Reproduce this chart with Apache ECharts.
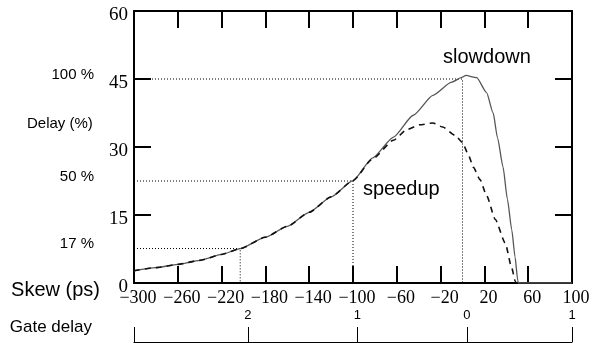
<!DOCTYPE html>
<html>
<head>
<meta charset="utf-8">
<script src="https://cdn.jsdelivr.net/npm/echarts@6/dist/echarts.min.js"></script>
<style>
  html, body { margin: 0; padding: 0; background: #fff; }
  #chart { width: 593px; height: 343px; }
</style>
</head>
<body>
<div id="chart"></div>
<script>
// skew (ps) vs delay
const solidSkew  = [-300, -280, -260, -240, -220, -203, -180, -160, -140, -120, -100, -82, -63, -45, -27, -10, 0, 3, 13, 22, 28, 32, 37, 41, 45, 48, 50.5, 51, 60, 100];
const solidDelay = [2.7, 3.4, 4.1, 5.0, 6.3, 7.6, 10.1, 12.5, 15.6, 19.0, 22.6, 27.6, 32.2, 37.0, 41.4, 44.3, 45.4, 45.8, 45.3, 42.0, 37.5, 32.0, 25.6, 18.5, 11.7, 5.7, 0.5, 0, 0, 0];

const dashedSkew  = [-300, -280, -260, -240, -220, -203, -180, -160, -140, -120, -100, -82, -63, -51, -39, -27, -18, -7, 0, 5, 10, 16, 22, 30, 39, 45, 48, 49];
const dashedDelay = [2.7, 3.4, 4.1, 5.0, 6.3, 7.6, 10.1, 12.5, 15.6, 19.0, 22.6, 27.4, 31.5, 33.8, 34.9, 35.3, 34.4, 32.6, 31.0, 28.5, 25.5, 22.8, 19.3, 14.0, 8.8, 3.3, 0.5, 0];

// dotted guide lines (100 %, 50 %, 17 % of the peak delay)
const refSkew   = [0, -100, -203];
const refDelay  = [45, 22.5, 7.6];
const refLabels = ["100 %", "50 %", "17 %"];

// gate-delay scale under the skew axis
const gateSkew   = [-196, -96, 4, 100];
const gateLabels = ["2", "1", "0", "1"];

const serif = "Liberation Serif";
const sans = "Liberation Sans";

const chart = echarts.init(document.getElementById("chart"), null, { renderer: "canvas" });

const pairs = (xs, ys) => xs.map((x, i) => [x, ys[i]]);

// one dotted polyline per guide: from the left axis to the curve, then down
const refSeries = refSkew.map((s, i) => ({
  type: "line",
  data: [[-300, refDelay[i]], [s, refDelay[i]], [s, 0]],
  showSymbol: false,
  silent: true,
  lineStyle: { color: "#000", width: 1, type: [1, 2] },
  z: 1,
}));

// axes must stay on the frame, not cross at zero
const frame = { show: true, onZero: false, lineStyle: { color: "#000", width: 2 } };
const tickIn = { inside: true, length: 17, lineStyle: { color: "#000", width: 2 } };

const option = {
  animation: false,
  backgroundColor: "#fff",
  // v6 shrinks the grid to keep labels on canvas; keep it fixed instead
  grid: { left: 134, right: 21, top: 11, bottom: 60, outerBoundsMode: "none", containLabel: false },
  xAxis: [
    {
      type: "value",
      min: -300,
      max: 100,
      interval: 40,
      position: "bottom",
      axisLine: frame,
      axisTick: tickIn,
      splitLine: { show: false },
      axisLabel: {
        fontFamily: serif,
        fontSize: 18,
        color: "#000",
        margin: 6,
        padding: [0, 0, 0, 8],
        formatter: (v) => String(v).replace("-", "\u2212"),
      },
      name: "Skew (ps)",
      nameLocation: "start",
      nameGap: 34,
      nameTextStyle: { fontFamily: sans, fontSize: 20, color: "#000", verticalAlign: "top", lineHeight: 14 },
    },
    {
      type: "value",
      min: -300,
      max: 100,
      interval: 40,
      position: "top",
      axisLine: frame,
      axisTick: tickIn,
      axisLabel: { show: false },
      splitLine: { show: false },
    },
    {
      type: "value",
      min: -300,
      max: 100,
      position: "bottom",
      offset: 59,
      axisLine: { show: true, onZero: false, lineStyle: { color: "#000", width: 1 } },
      axisTick: {
        inside: true,
        length: 15,
        customValues: [-300].concat(gateSkew),
        lineStyle: { color: "#000", width: 1 },
      },
      axisLabel: {
        inside: true,
        margin: 20,
        customValues: gateSkew,
        fontFamily: sans,
        fontSize: 13,
        color: "#000",
        formatter: (v) => gateLabels[gateSkew.indexOf(v)],
      },
      splitLine: { show: false },
      name: "Gate delay",
      nameLocation: "start",
      nameGap: 42,
      nameTextStyle: { fontFamily: sans, fontSize: 17, color: "#000", verticalAlign: "bottom", lineHeight: 30 },
    },
  ],
  yAxis: [
    {
      type: "value",
      min: 0,
      max: 60,
      interval: 15,
      position: "left",
      axisLine: frame,
      axisTick: tickIn,
      splitLine: { show: false },
      axisLabel: {
        fontFamily: serif,
        fontSize: 19,
        color: "#000",
        margin: 6,
        verticalAlign: "top",
        lineHeight: 8,
      },
    },
    {
      type: "value",
      min: 0,
      max: 60,
      interval: 15,
      position: "right",
      axisLine: frame,
      axisTick: tickIn,
      axisLabel: { show: false },
      splitLine: { show: false },
    },
    {
      type: "value",
      min: 0,
      max: 60,
      position: "left",
      offset: 37,
      axisLine: { show: false, onZero: false },
      axisTick: { show: false },
      splitLine: { show: false },
      axisLabel: {
        customValues: refDelay,
        margin: 3,
        verticalAlign: "bottom",
        lineHeight: 9,
        fontFamily: sans,
        fontSize: 15,
        color: "#000",
        formatter: (v) => refLabels[refDelay.indexOf(v)],
      },
    },
  ],
  graphic: [
    {
      type: "text",
      left: 27,
      top: 116,
      style: { text: "Delay (%)", font: "15px " + sans, fill: "#000" },
    },
    {
      type: "text",
      left: 443,
      top: 47,
      style: { text: "slowdown", font: "20px " + sans, fill: "#000" },
    },
    {
      type: "text",
      left: 363,
      top: 179,
      style: { text: "speedup", font: "20px " + sans, fill: "#000" },
    },
  ],
  series: [
    ...refSeries,
    {
      name: "slowdown",
      type: "line",
      data: pairs(solidSkew, solidDelay),
      showSymbol: false,
      smooth: 0.2,
      smoothMonotone: "x",
      lineStyle: { color: "#555", width: 1.3 },
      z: 2,
    },
    {
      name: "speedup",
      type: "line",
      data: pairs(dashedSkew, dashedDelay),
      showSymbol: false,
      smooth: 0.2,
      smoothMonotone: "x",
      lineStyle: { color: "#111", width: 1.6, type: [6, 5] },
      z: 3,
    },
  ],
};

chart.setOption(option);
</script>
</body>
</html>
